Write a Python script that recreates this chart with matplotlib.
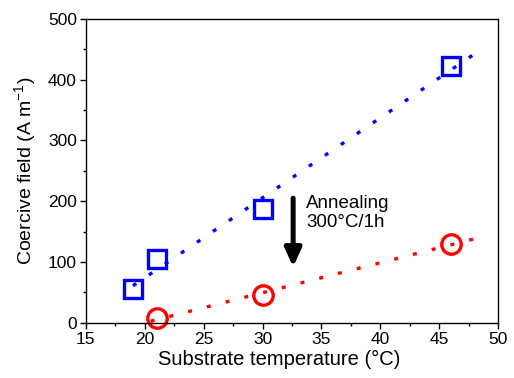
import numpy as np
import matplotlib
matplotlib.use("Agg")
import matplotlib.pyplot as plt
from matplotlib.ticker import MultipleLocator

plt.rcParams["font.family"] = ["Liberation Sans", "DejaVu Sans"]
plt.rcParams["mathtext.fontset"] = "custom"
plt.rcParams["mathtext.rm"] = "Liberation Sans"

# as-deposited
temp_as = [19, 21, 30, 46]
hc_as = [55, 105, 188, 422]

# annealed 300C / 1h
temp_ann = [21, 30, 46]
hc_ann = [8, 45, 130]

fig = plt.figure(figsize=(5.14, 3.78), dpi=100)
ax = fig.add_axes([0.167, 0.146, 0.802, 0.804])

# linear fits
dots = (0, (1.2, 4.6))
p_as = np.polyfit(temp_as, hc_as, 1)
x_as = np.linspace(19, 48, 50)
ax.plot(x_as, np.polyval(p_as, x_as), color="blue", ls=dots, lw=2.4)

p_ann = np.polyfit(temp_ann, hc_ann, 1)
x_ann = np.linspace(20.5, 48, 50)
ax.plot(x_ann, np.polyval(p_ann, x_ann), color="red", ls=dots, lw=2.4)

ax.plot(temp_as, hc_as, ls="none", marker="s", ms=12.5, mfc="none",
        mec="blue", mew=2.4, clip_on=False)
ax.plot(temp_ann, hc_ann, ls="none", marker="o", ms=14, mfc="none",
        mec="red", mew=2.4, clip_on=False)

ax.annotate("", xy=(32.6, 92), xytext=(32.6, 205),
            arrowprops=dict(arrowstyle="-|>,head_width=0.5,head_length=1.1",
                            color="black", lw=3.6, shrinkA=0, shrinkB=0))
ax.text(33.7, 210, "Annealing\n300\u00b0C/1h", fontsize=13.5, va="top",
        ha="left", linespacing=1.15)

ax.set_xlim(15, 50)
ax.set_ylim(0, 500)
ax.xaxis.set_major_locator(MultipleLocator(5))
ax.xaxis.set_minor_locator(MultipleLocator(2.5))
ax.yaxis.set_major_locator(MultipleLocator(100))
ax.yaxis.set_minor_locator(MultipleLocator(50))
ax.tick_params(which="both", direction="out", labelsize=12.5, width=1)
ax.tick_params(which="major", length=4, pad=2.5)
ax.tick_params(which="minor", length=2.5)
for s in ax.spines.values():
    s.set_linewidth(1)

ax.set_xlabel("Substrate temperature (\u00b0C)", fontsize=14.5)
ax.xaxis.set_label_coords(0.47, -0.09)
ax.set_ylabel(r"Coercive field (A m$^{-1}$)", fontsize=14, labelpad=6)

fig.savefig("out.png", dpi=100)
